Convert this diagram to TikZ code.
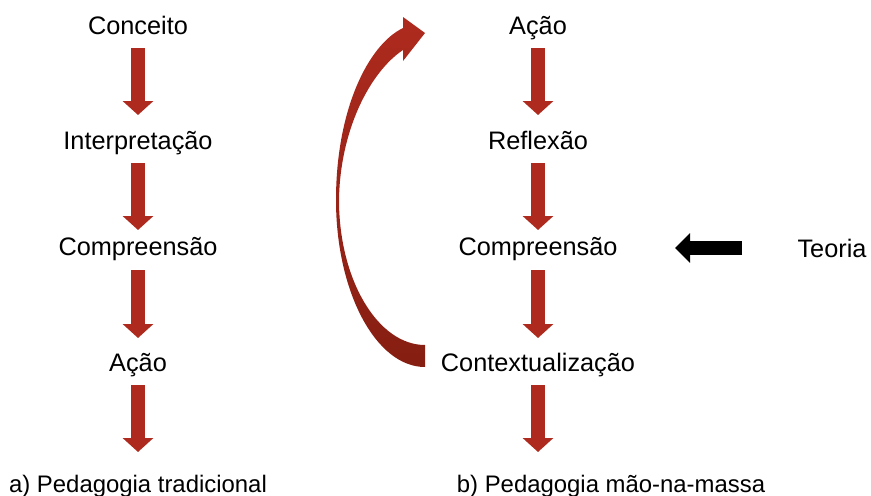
\documentclass[tikz,border=0pt]{standalone}
\usepackage{fontspec}
\setmainfont{Liberation Sans}
\usetikzlibrary{arrows.meta}
\definecolor{arrred}{RGB}{174,42,30}
\definecolor{arrdark}{RGB}{134,30,18}
\begin{document}
\begin{tikzpicture}[
 lbl/.style={inner sep=0pt,text height=0.36cm,text depth=0pt,
             font=\fontsize{14.4}{17}\selectfont},
 capt/.style={inner sep=0pt,text height=0.34cm,text depth=0pt,
             font=\fontsize{13.6}{16}\selectfont},
 down/.style={draw=arrred,line width=0.28cm,
              -{Triangle[length=0.28cm,width=0.6cm]}},
 push/.style={draw=black,line width=0.28cm,
              -{Triangle[length=0.3cm,width=0.58cm]}}]
 \useasboundingbox (0,0) rectangle (17.42,-9.9);
 % a) traditional
 \node[lbl] (l1) at (2.76,-0.5) {Conceito};
 \node[lbl] (l2) at (2.76,-2.8) {Interpretação};
 \node[lbl] (l3) at (2.76,-4.92) {Compreensão};
 \node[lbl] (l4) at (2.76,-7.24) {Ação};
 \node[capt] (la) at (2.76,-9.68) {a) Pedagogia tradicional};
 % b) hands-on
 \node[lbl] (r1) at (10.76,-0.5) {Ação};
 \node[lbl] (r2) at (10.76,-2.8) {Reflexão};
 \node[lbl] (r3) at (10.76,-4.92) {Compreensão};
 \node[lbl] (r4) at (10.76,-7.24) {Contextualização};
 \node[capt] (rb) at (12.22,-9.68) {b) Pedagogia mão-na-massa};
 \coordinate (re) at (r4.center |- rb.center);
 \node[lbl] (t) at (16.64,-4.96) {Teoria};
 \foreach \a/\b/\s/\e in {l1/l2/0.46cm/0.5cm,l2/l3/0.46cm/0.32cm,
   l3/l4/0.48cm/0.48cm,l4/la/0.46cm/0.64cm,
   r1/r2/0.46cm/0.5cm,r2/r3/0.46cm/0.32cm,
   r3/r4/0.48cm/0.48cm,r4/re/0.46cm/0.64cm}
  \draw[down,shorten <=\s,shorten >=\e] (\a.center) -- (\b.center);
 \draw[push,shorten <=1.8cm,shorten >=2.74cm] (t.center) -- (r3.center |- t.center);
 % curved return arrow
 \shade[top color=arrred,bottom color=arrdark]
  (8.5,-7.34) .. controls (7.52,-7.34) and (6.72,-5.84) .. (6.72,-4.0)
  .. controls (6.72,-2.2) and (7.36,-0.9) .. (8.06,-0.56)
  -- (8.06,-0.34) -- (8.5,-0.66) -- (8.06,-1.22) -- (8.06,-1.0)
  .. controls (7.4,-1.44) and (6.8,-2.6) .. (6.78,-4.0)
  .. controls (6.78,-5.6) and (7.56,-6.9) .. (8.5,-6.9) -- cycle;
\end{tikzpicture}
\end{document}
